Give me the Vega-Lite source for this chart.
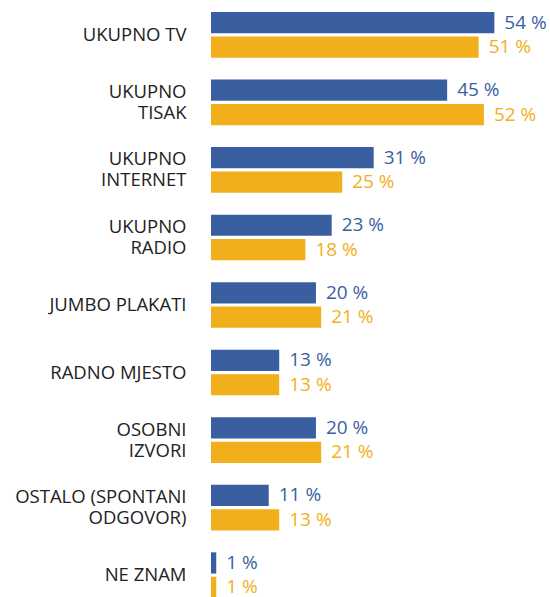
{
  "$schema": "https://vega.github.io/schema/vega-lite/v6.json",
  "width": 339,
  "height": 586,
  "autosize": {"type": "none"},
  "padding": {"left": 211, "top": 12, "right": 0, "bottom": 0},
  "config": {"view": {"stroke": null}, "font": "Open Sans"},
  "data": {"values": [
    {"cat": "UKUPNO TV", "s": "A", "v": 54},
    {"cat": "UKUPNO TV", "s": "B", "v": 51},
    {"cat": "UKUPNO|TISAK", "s": "A", "v": 45},
    {"cat": "UKUPNO|TISAK", "s": "B", "v": 52},
    {"cat": "UKUPNO|INTERNET", "s": "A", "v": 31},
    {"cat": "UKUPNO|INTERNET", "s": "B", "v": 25},
    {"cat": "UKUPNO|RADIO", "s": "A", "v": 23},
    {"cat": "UKUPNO|RADIO", "s": "B", "v": 18},
    {"cat": "JUMBO PLAKATI", "s": "A", "v": 20},
    {"cat": "JUMBO PLAKATI", "s": "B", "v": 21},
    {"cat": "RADNO MJESTO", "s": "A", "v": 13},
    {"cat": "RADNO MJESTO", "s": "B", "v": 13},
    {"cat": "OSOBNI|IZVORI", "s": "A", "v": 20},
    {"cat": "OSOBNI|IZVORI", "s": "B", "v": 21},
    {"cat": "OSTALO (SPONTANI|ODGOVOR)", "s": "A", "v": 11},
    {"cat": "OSTALO (SPONTANI|ODGOVOR)", "s": "B", "v": 13},
    {"cat": "NE ZNAM", "s": "A", "v": 1},
    {"cat": "NE ZNAM", "s": "B", "v": 1}
  ]},
  "transform": [{"calculate": "datum.v + ' %'", "as": "lbl"}],
  "encoding": {
    "y": {
      "field": "cat", "type": "nominal", "sort": null,
      "scale": {"paddingInner": 0.324, "paddingOuter": 0},
      "axis": {
        "title": null, "domain": false, "ticks": false, "labelPadding": 25,
        "labelFontSize": 18.5, "labelColor": "#222222",
        "labelExpr": "split(datum.value, '|')", "labelLineHeight": 21, "labelLimit": 220,
        "labelOffset": {"condition": {"test": "indexof(datum.value, '|') >= 0", "value": -10.5}, "value": 0}
      }
    },
    "yOffset": {"field": "s", "type": "nominal", "scale": {"paddingInner": 0.13, "paddingOuter": 0}},
    "x": {"field": "v", "type": "quantitative", "scale": {"domain": [0, 64.6]}, "axis": null},
    "color": {"field": "s", "type": "nominal", "scale": {"domain": ["A", "B"], "range": ["#3a5fa0", "#f2af1c"]}, "legend": null}
  },
  "layer": [
    {"mark": {"type": "bar"}},
    {"mark": {"type": "text", "align": "left", "dx": 10, "fontSize": 19, "baseline": "middle"}, "encoding": {"text": {"field": "lbl"}}}
  ]
}
